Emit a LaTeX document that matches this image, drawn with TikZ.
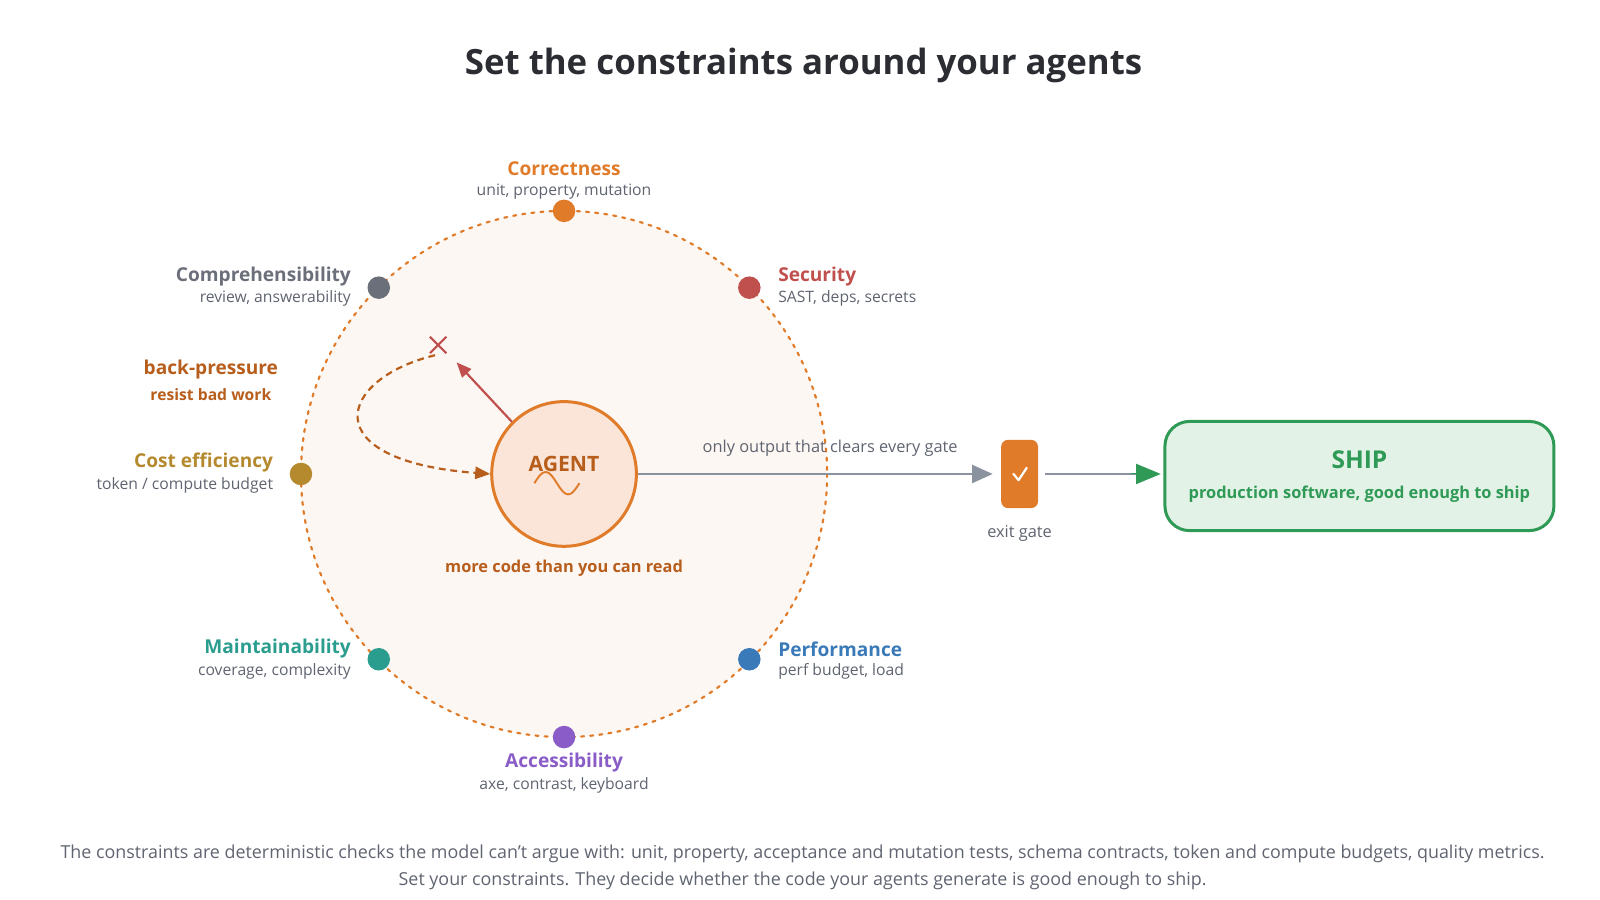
\documentclass[tikz,border=0pt]{standalone}
\usepackage{fontspec}
\setmainfont{Open Sans}
\usetikzlibrary{arrows.meta,calc}
\definecolor{corr}{HTML}{E07B2A}
\definecolor{bp}{HTML}{B85E1C}
\definecolor{sec}{HTML}{C0504D}
\definecolor{comp}{HTML}{6B6F7A}
\definecolor{cost}{HTML}{B58A2E}
\definecolor{maint}{HTML}{2A9D8F}
\definecolor{acc}{HTML}{8A5CC7}
\definecolor{perf}{HTML}{3A7AB8}
\definecolor{ship}{HTML}{2E9A55}
\definecolor{shipfill}{HTML}{E3F2E6}
\definecolor{txt}{HTML}{2B2D33}
\definecolor{sub}{HTML}{5F6470}
\definecolor{ring}{HTML}{FDF7F3}
\definecolor{agentfill}{HTML}{FAE5D8}
\definecolor{arrowgray}{HTML}{8A92A0}
\begin{document}
\begin{tikzpicture}[x=0.75pt,y=-0.75pt,
  dot/.style={circle,fill=#1,minimum size=16.5pt,inner sep=0},
  lab/.style={font=\fontsize{14}{16}\selectfont\bfseries,text=#1,inner sep=0},
  sub/.style={font=\fontsize{11.5}{14}\selectfont,text=sub,inner sep=0}]
\useasboundingbox (0,0) rectangle (1563,879);
\node[font=\fontsize{25.5}{30}\selectfont\bfseries,text=txt] (title) at (785,64) {Set the constraints around your agents};
\coordinate (c) at (551,463);
\fill[ring] (c) circle (257);
\draw[corr,line width=1.6pt,dash pattern=on 2.2pt off 4.5pt,line cap=round] (c) circle (257);
% dots
\node[dot=corr] (d1) at (551,206) {};
\node[dot=sec] (d2) at (732,281) {};
\node[dot=comp] (d3) at (370,281) {};
\node[dot=cost] (d4) at (294,463) {};
\node[dot=maint] (d5) at (370,644) {};
\node[dot=perf] (d6) at (732,644) {};
\node[dot=acc] (d7) at (551,720) {};
% labels
\node[lab=corr] (l1) at (551,165) {Correctness};
\node[sub] (s1) at (551,187) {unit, property, mutation};
\node[lab=sec,anchor=west] (l2) at (760,270) {Security};
\node[sub,anchor=west] (s2) at (760,292) {SAST, deps, secrets};
\node[lab=comp,anchor=east] (l3) at (343,270) {Comprehensibility};
\node[sub,anchor=east] (s3) at (343,292) {review, answerability};
\node[lab=cost,anchor=east] (l4) at (267,452) {Cost efficiency};
\node[sub,anchor=east] (s4) at (267,474) {token / compute budget};
\node[lab=maint,anchor=east] (l5) at (343,634) {Maintainability};
\node[sub,anchor=east] (s5) at (343,656) {coverage, complexity};
\node[lab=perf,anchor=west] (l6) at (760,634) {Performance};
\node[sub,anchor=west] (s6) at (760,656) {perf budget, load};
\node[lab=acc] (l7) at (551,745) {Accessibility};
\node[sub] (s7) at (551,767) {axe, contrast, keyboard};
\node[lab=bp] (bp1) at (206,361) {back-pressure};
\node[font=\fontsize{11.5}{14}\selectfont\bfseries,text=bp] (bp2) at (206,385) {resist bad work};
% agent
\node[circle,fill=agentfill,draw=corr,line width=2.2pt,minimum size=106pt] (agent) at (c) {};
\node[font=\fontsize{15.5}{18}\selectfont\bfseries,text=bp] (at) at (551,453) {AGENT};
\draw[corr,line width=1.4pt] (522,472) sin (533,461) cos (544,472) sin (555,483) cos (566,472);
\node[font=\fontsize{12}{14}\selectfont\bfseries,text=bp] (more) at (551,555) {more code than you can read};
% reject
\coordinate (xc) at (428,337);
\draw[sec,line width=1.6pt] ($(xc)+(-8,-8)$) -- ($(xc)+(8,8)$) ($(xc)+(-8,8)$) -- ($(xc)+(8,-8)$);
\coordinate (rt) at (446,354);
\draw[sec,line width=1.6pt,-{Triangle[length=11pt,width=9pt]}] (agent.135) -- (rt);
\coordinate (dstart) at (425,347);
\draw[bp,line width=1.6pt,dash pattern=on 5pt off 3.5pt,-{Triangle[length=11pt,width=9pt]}] (dstart) .. controls (330,370) and (305,450) .. (agent.west);
% gate
\node[rectangle,rounded corners=5pt,fill=corr,minimum width=27pt,minimum height=50pt,inner sep=0] (gate) at (996,463) {};
\draw[white,line width=1.6pt,line cap=round,line join=round] (990,463) -- (995,469) -- (1003,457);
\node[sub,font=\fontsize{12}{14}\selectfont] (eg) at (996,521) {exit gate};
\draw[arrowgray,line width=2pt,-{Triangle[length=15pt,width=13pt]}] (agent.east) -- ([xshift=-6pt]gate.west);
\node[sub,font=\fontsize{12}{14}\selectfont] (only) at (811,438) {only output that clears every gate};
% ship
\node[rectangle,rounded corners=18pt,fill=shipfill,draw=ship,line width=2.2pt,minimum width=285pt,minimum height=80pt] (shipbox) at (1328,465) {};
\node[font=\fontsize{18}{20}\selectfont\bfseries,text=ship] (st) at (1328,449) {SHIP};
\node[font=\fontsize{12}{14}\selectfont\bfseries,text=ship] (ss) at (1328,483) {production software, good enough to ship};
\draw[arrowgray,line width=2pt] ([xshift=5pt]gate.east) -- (1110,463);
\draw[ship,line width=0pt,-{Triangle[length=18pt,width=15pt]}] (1105,463) -- ([xshift=-2pt]shipbox.west |- 0,463);
% footer
\node[sub,font=\fontsize{13.1}{15}\selectfont] (f1) at (784,834) {The constraints are deterministic checks the model can't argue with: unit, property, acceptance and mutation tests, schema contracts, token and compute budgets, quality metrics.};
\node[sub,font=\fontsize{13.1}{15}\selectfont] (f2) at (784,860) {Set your constraints. They decide whether the code your agents generate is good enough to ship.};
\end{tikzpicture}
\end{document}
